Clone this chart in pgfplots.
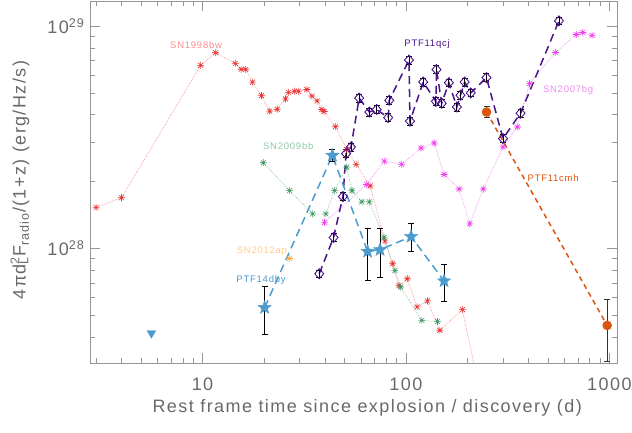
\documentclass[border=0pt]{standalone}
\usepackage{fontspec}
\setmainfont{Liberation Sans}[LetterSpace=8]
\usepackage{pgfplots}
\pgfplotsset{compat=1.18}

\definecolor{txtgray}{RGB}{105,105,105}
\definecolor{axgray}{RGB}{150,150,150}
\definecolor{c98}{RGB}{235,50,50}
\definecolor{c98l}{RGB}{255,140,140}
\definecolor{c09}{RGB}{60,150,95}
\definecolor{c09l}{RGB}{140,200,165}
\definecolor{c07}{RGB}{240,60,240}
\definecolor{c07l}{RGB}{240,140,240}
\definecolor{cqcj}{RGB}{75,20,140}
\definecolor{cdby}{RGB}{75,155,205}
\definecolor{c12}{RGB}{255,170,50}
\definecolor{c12l}{RGB}{255,205,140}
\definecolor{ccmh}{RGB}{220,85,15}

% eight-armed asterisk, like the IDL psym 2
\pgfdeclareplotmark{ast8}{%
  \pgfpathmoveto{\pgfqpoint{-\pgfplotmarksize}{0pt}}\pgfpathlineto{\pgfqpoint{\pgfplotmarksize}{0pt}}%
  \pgfpathmoveto{\pgfqpoint{0pt}{-\pgfplotmarksize}}\pgfpathlineto{\pgfqpoint{0pt}{\pgfplotmarksize}}%
  \pgfpathmoveto{\pgfpointpolar{45}{\pgfplotmarksize}}\pgfpathlineto{\pgfpointpolar{225}{\pgfplotmarksize}}%
  \pgfpathmoveto{\pgfpointpolar{135}{\pgfplotmarksize}}\pgfpathlineto{\pgfpointpolar{315}{\pgfplotmarksize}}%
  \pgfusepathqstroke}
% filled five-point star
\pgfdeclareplotmark{fstar}{%
  \pgfpathmoveto{\pgfpointpolar{90}{\pgfplotmarksize}}%
  \pgfpathlineto{\pgfpointpolar{126}{0.42\pgfplotmarksize}}%
  \pgfpathlineto{\pgfpointpolar{162}{\pgfplotmarksize}}%
  \pgfpathlineto{\pgfpointpolar{198}{0.42\pgfplotmarksize}}%
  \pgfpathlineto{\pgfpointpolar{234}{\pgfplotmarksize}}%
  \pgfpathlineto{\pgfpointpolar{270}{0.42\pgfplotmarksize}}%
  \pgfpathlineto{\pgfpointpolar{306}{\pgfplotmarksize}}%
  \pgfpathlineto{\pgfpointpolar{342}{0.42\pgfplotmarksize}}%
  \pgfpathlineto{\pgfpointpolar{18}{\pgfplotmarksize}}%
  \pgfpathlineto{\pgfpointpolar{54}{0.42\pgfplotmarksize}}%
  \pgfpathclose\pgfusepathqfillstroke}

\begin{document}
\begin{tikzpicture}
\useasboundingbox (-90pt,-69pt) rectangle (542pt,363pt);
\begin{axis}[
    at={(0,0)}, anchor=south west,
    scale only axis,
    width=527pt, height=362pt,
    xmode=log, ymode=log,
    xmin=2.8, xmax=1090,
    ymin=3.05e27, ymax=1.3e29,
    xtick={10,100,1000}, xticklabels={10,100,1000},
    minor xtick={3,4,5,6,7,8,9,20,30,40,50,60,70,80,90,200,300,400,500,600,700,800,900},
    ytick={1e28,1e29},
    yticklabels={10\textsuperscript{28},10\textsuperscript{29}},
    minor ytick={4e27,5e27,6e27,7e27,8e27,9e27,2e28,3e28,4e28,5e28,6e28,7e28,8e28,9e28},
    major tick length=10pt, minor tick length=5pt,
    axis line style={axgray},
    every tick/.style={axgray},
    every minor tick/.style={axgray},
    tick label style={txtgray, font=\fontsize{18}{20}\selectfont},
    xticklabel style={yshift=-11pt},
    yticklabel style={xshift=-2pt},
    xlabel={Rest frame time since explosion / discovery (d)},
    xlabel style={txtgray, font=\fontsize{18}{20}\selectfont, at={(rel axis cs:0.526,0)}, anchor=center, yshift=-45pt},
    ylabel={4πd\rlap{\textsuperscript{2}}\textsubscript{L}F\textsubscript{radio}/(1+z) (erg/Hz/s)},
    ylabel style={txtgray, font=\fontsize{18}{20}\selectfont, at={(rel axis cs:0,0.505)}, anchor=center, yshift=70pt},
    clip=true,
]
% SN1998bw
\addplot[c98l, densely dotted, line width=0.7pt, mark=ast8, mark size=3.5pt, mark options={c98, solid, line width=0.6pt}] coordinates {
 (3.0,1.53e28) (4.0,1.69e28) (9.8,6.67e28) (11.6,7.6e28) (14.5,6.8e28) (15.5,6.4e28)
 (16.3,6.4e28) (17.6,5.6e28) (19.5,4.87e28) (21.4,4.15e28) (23.3,4.23e28) (25.6,4.71e28)
 (26.5,5.04e28) (28.3,5.1e28) (29.6,5.1e28) (32.6,5.19e28) (34.5,4.85e28) (36.6,4.61e28)
 (38.6,4.22e28) (39.6,4.13e28) (45.0,3.53e28) (51.2,2.79e28) (56.9,2.39e28) (66.7,1.91e28)
 (78.9,1.08e28) (86.1,8.53e27) (92.4,6.8e27) (101.5,7.3e27) (113.5,5.45e27) (127.6,5.8e27)
 (146.8,4.28e27) (189.6,5.3e27) (250,1.6e27)
};
% SN2009bb
\addplot[c09l, densely dotted, line width=0.7pt, mark=ast8, mark size=3.5pt, mark options={c09, solid, line width=0.6pt}] coordinates {
 (19.9,2.43e28) (26.8,1.82e28) (34.8,1.43e28) (40.4,1.43e28) (44.6,1.82e28) (51.2,2.32e28)
 (54.3,1.82e28) (60.7,1.62e28) (66.1,1.62e28) (78,1.12e28) (88.3,7.96e27) (94.2,6.7e27)
 (119.7,4.74e27) (143,4.69e27)
};
% SN2007bg
\addplot[c07l, densely dotted, line width=0.7pt, mark=ast8, mark size=3.5pt, mark options={c07, solid, line width=0.6pt}] coordinates {
 (39.8,1.31e28) (64.1,1.94e28) (78.3,2.47e28) (95.3,2.39e28) (118.6,2.83e28) (137.7,2.98e28)
 (154,2.15e28) (182.5,1.85e28) (206,1.29e28) (240,1.85e28) (300,2.86e28) (353,3.52e28)
 (405,5.52e28) (543,7.62e28) (687,9.18e28) (740,9.37e28) (822,9.1e28)
};
% SN2012ap
\addplot[only marks, mark=ast8, mark size=3.5pt, mark options={c12, line width=0.6pt}] coordinates {
 (26.8,9.0e27)
};
% PTF11qcj
\addplot[cqcj, dash pattern=on 8pt off 5pt, line width=1.5pt, mark=diamond, mark size=5pt,
  mark options={cqcj, solid, line width=0.9pt, fill=none, xscale=1.2},
  error bars/.cd, y dir=both, y explicit relative,
  error bar style={black, solid, line width=0.8pt},
  error mark options={black, rotate=90, mark size=3pt, line width=0.8pt}] coordinates {
 (37.5,7.69e27) +- (0,0.04) (44.1,1.12e28) +- (0,0.04) (49,1.71e28) +- (0,0.04)
 (50.8,2.67e28) +- (0,0.04) (53.7,2.86e28) +- (0,0.04) (58.9,4.75e28) +- (0,0.04)
 (66.1,4.11e28) +- (0,0.04) (71.8,4.22e28) +- (0,0.04) (81.8,3.88e28) +- (0,0.04)
 (82.8,4.64e28) +- (0,0.04) (103.5,7.04e28) +- (0,0.04) (104.7,3.74e28) +- (0,0.04)
 (121.6,5.61e28) +- (0,0.04) (140.3,4.59e28) +- (0,0.04) (141.3,6.38e28) +- (0,0.04)
 (150,4.5e28) +- (0,0.04) (162.6,5.57e28) +- (0,0.04) (178,4.33e28) +- (0,0.04)
 (185.4,4.89e28) +- (0,0.04) (194.4,5.61e28) +- (0,0.04) (208.3,5.01e28) +- (0,0.04)
 (248.8,5.87e28) +- (0,0.04) (300,3.12e28) +- (0,0.04) (366,4.06e28) +- (0,0.04)
 (565,1.057e29) +- (0,0.04)
};
% PTF11cmh
\addplot[ccmh, dash pattern=on 5pt off 4pt, line width=1.5pt, mark=*, mark size=4pt,
  mark options={ccmh, solid},
  error bars/.cd, y dir=both, y explicit,
  error bar style={black!80, solid, line width=0.8pt},
  error mark options={black!80, rotate=90, mark size=3pt, line width=0.8pt}] coordinates {
 (249,4.11e28) += (0,0.25e28) -= (0,0.23e28)
 (975,4.5e27) += (0,1.4e27) -= (0,1.4e27)
};
% PTF14dby
\addplot[cdby, dash pattern=on 8pt off 5pt, line width=1.5pt, mark=fstar, mark size=7pt,
  mark options={cdby, solid, line width=0.4pt},
  error bars/.cd, y dir=both, y explicit,
  error bar style={black, solid, line width=0.8pt},
  error mark options={black, rotate=90, mark size=3pt, line width=0.8pt}] coordinates {
 (20.2,5.41e27) += (0,1.34e27) -= (0,1.32e27)
 (43.5,2.62e28) += (0,1.7e27) -= (0,1.6e27)
 (64.8,9.68e27) += (0,2.62e27) -= (0,2.5e27)
 (74.6,9.86e27) += (0,2.44e27) -= (0,2.43e27)
 (106,1.13e28) += (0,1.6e27) -= (0,1.57e27)
 (154,7.13e27) += (0,1.34e27) -= (0,1.33e27)
};
% PTF14dby upper limit
\addplot[only marks, mark=triangle*, mark size=5pt, mark options={cdby, rotate=180}] coordinates {
 (5.61,4.15e27)
};
\node[c98l, font=\fontsize{9.5}{11}\selectfont] at (axis cs:9.3,8.2e28) {SN1998bw};
\node[cqcj, font=\fontsize{9.5}{11}\selectfont] at (axis cs:127,8.3e28) {PTF11qcj};
\node[c07l, font=\fontsize{9.5}{11}\selectfont] at (axis cs:627,5.15e28) {SN2007bg};
\node[c09l, font=\fontsize{9.5}{11}\selectfont] at (axis cs:26.4,2.88e28) {SN2009bb};
\node[ccmh, font=\fontsize{9.5}{11}\selectfont] at (axis cs:529,2.07e28) {PTF11cmh};
\node[c12l, font=\fontsize{9.5}{11}\selectfont] at (axis cs:19.6,9.73e27) {SN2012ap};
\node[cdby, font=\fontsize{9.5}{11}\selectfont] at (axis cs:19.4,7.2e27) {PTF14dby};
\end{axis}
\end{tikzpicture}
\end{document}
